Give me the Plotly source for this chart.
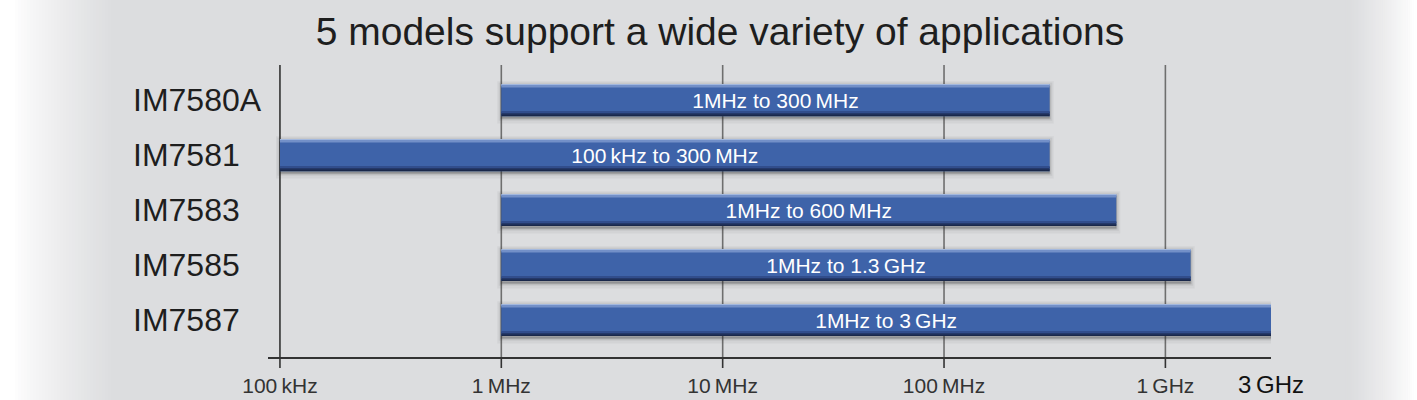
import plotly.graph_objects as go

# ---------------- data ----------------
models = ["IM7580A", "IM7581", "IM7583", "IM7585", "IM7587"]
start_hz = [1e6, 1e5, 1e6, 1e6, 1e6]
end_hz = [300e6, 300e6, 600e6, 1.3e9, 3e9]
bar_labels = ["1MHz to 300\u2009MHz", "100\u2009kHz to 300\u2009MHz", "1MHz to 600\u2009MHz",
              "1MHz to 1.3\u2009GHz", "1MHz to 3\u2009GHz"]
tick_vals = [1e5, 1e6, 1e7, 1e8, 1e9, 3e9]
tick_text = ["100\u2009kHz", "1\u2009MHz", "10\u2009MHz", "100\u2009MHz", "1\u2009GHz", "3\u2009GHz"]
grid_vals = [1e5, 1e6, 1e7, 1e8, 1e9]
title_text = "5 models support a wide variety of applications"

spans = [e - s for s, e in zip(start_hz, end_hz)]

W, H = 1417, 400
ML, MR, MT, MB = 268, 146, 65, 43
PW = W - ML - MR
FONT = "Liberation Sans, Arial, Helvetica, sans-serif"

fig = go.Figure()

# drop shadow layers
for w, off, line_w, a in [(0.62, -0.27, 8, 0.05), (0.60, -0.27, 5, 0.07), (0.58, -0.25, 2, 0.14)]:
    fig.add_trace(go.Bar(y=models, x=spans, base=start_hz, orientation="h", width=w, offset=off,
                         marker=dict(color=f"rgba(40,40,40,{a})",
                                     line=dict(color=f"rgba(40,40,40,{a})", width=line_w)),
                         hoverinfo="skip", showlegend=False))
# main bar
fig.add_trace(go.Bar(y=models, x=spans, base=start_hz, orientation="h", width=0.58, offset=-0.29,
                     marker=dict(color="#3e63a9", line=dict(width=0)),
                     hoverinfo="skip", showlegend=False))
# top highlight / bottom dark edge (gradient bands)
for w, off, col in [(0.03, -0.29, "#a3b8de"), (0.03, -0.26, "#7390c8"),
                    (0.03, 0.26, "#1a284a"), (0.03, 0.23, "#25396a"), (0.03, 0.20, "#314d8c")]:
    fig.add_trace(go.Bar(y=models, x=spans, base=start_hz, orientation="h", width=w, offset=off,
                         marker=dict(color=col, line=dict(width=0)),
                         hoverinfo="skip", showlegend=False))
# text
fig.add_trace(go.Bar(y=models, x=spans, base=start_hz, orientation="h", width=0.58, offset=-0.29,
                     marker=dict(color="rgba(0,0,0,0)", line=dict(width=0)),
                     text=bar_labels, textposition="inside", insidetextanchor="middle",
                     textangle=0, constraintext="none",
                     textfont=dict(color="white", size=21, family=FONT),
                     hoverinfo="skip", showlegend=False))

shapes = []
# background vignette (left and right fading to white)
def px2paper(p):
    return (p - ML) / PW

base = (220, 221, 223)
n = 40
for i in range(n):
    # left: white near the edge, gray by ~115px
    x0 = 0 + i * 120 / n
    x1 = x0 + 120 / n + 0.5
    f = min(1.0, max(0.0, (x0 - 12) / 100))
    f = f ** 0.8
    c = tuple(int(round(255 + (b - 255) * f)) for b in base)
    shapes.append(dict(type="rect", xref="paper", yref="paper", x0=px2paper(x0), x1=px2paper(x1),
                       y0=-1, y1=2, fillcolor=f"rgb{c}", line=dict(width=0), layer="below"))
    # right: gray at ~1350 to white at ~1412
    x0r = 1340 + i * 77 / n
    x1r = x0r + 77 / n + 0.5
    fr = min(1.0, max(0.0, (1412 - x0r) / 62))
    fr = fr ** 0.8
    cr = tuple(int(round(255 + (b - 255) * fr)) for b in base)
    shapes.append(dict(type="rect", xref="paper", yref="paper", x0=px2paper(x0r), x1=px2paper(x1r),
                       y0=-1, y1=2, fillcolor=f"rgb{cr}", line=dict(width=0), layer="below"))

# vertical grid lines and tick marks
for v in grid_vals:
    col = "#333333" if v == grid_vals[0] else "#6e6e6e"
    shapes.append(dict(type="line", xref="x", yref="paper", x0=v, x1=v, y0=0, y1=1,
                       line=dict(color=col, width=1.6), layer="below"))
    shapes.append(dict(type="line", xref="x", yref="paper", x0=v, x1=v, y0=0, y1=-11 / (H - MT - MB),
                       line=dict(color="#333333", width=1.6), layer="above"))

ticktext_fmt = [f"<span style='color:#111111;font-size:24px'>{t}</span>" if i == len(tick_text) - 1 else t
                for i, t in enumerate(tick_text)]

# left-aligned model labels
annotations = [dict(text=m, xref="paper", yref="y", x=px2paper(131), y=m, xanchor="left",
                    yanchor="middle", showarrow=False,
                    font=dict(family=FONT, size=32, color="#1e1e1e"))
               for m in models]

fig.update_layout(
    width=W, height=H,
    margin=dict(l=ML, r=MR, t=MT, b=MB, pad=0, autoexpand=False),
    paper_bgcolor="rgb(220,221,223)",
    plot_bgcolor="rgba(0,0,0,0)",
    barmode="overlay",
    showlegend=False,
    shapes=shapes,
    annotations=annotations,
    title=dict(text=title_text, x=720 / W, xanchor="center", y=1 - 31 / H, yanchor="middle",
               font=dict(family=FONT, size=39, color="#1e1e1e")),
    font=dict(family=FONT),
)

fig.update_xaxes(type="log", range=[4.946, 9.4771], tickvals=tick_vals, ticktext=ticktext_fmt,
                 automargin=False,
                 showgrid=False, zeroline=False, showline=True, linecolor="#333333", linewidth=1.6,
                 ticks="outside", ticklen=9, tickcolor="rgba(0,0,0,0)",
                 tickfont=dict(family=FONT, size=21, color="#333333"))
fig.update_yaxes(type="category", categoryorder="array", categoryarray=models,
                 automargin=False, showticklabels=False,
                 range=[4.67, -0.64], showgrid=False, zeroline=False, showline=False,
                 ticks="")

fig.write_html("out.html", config={"displayModeBar": False},
               post_script="document.body.style.margin='0';")
